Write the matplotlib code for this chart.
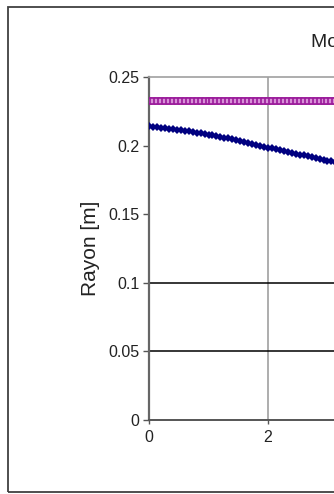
import matplotlib
matplotlib.use('Agg')
import matplotlib.pyplot as plt
from matplotlib.patches import Rectangle

# abscisses (pas de 1/15)
temps = [0.0, 0.067, 0.133, 0.2, 0.267, 0.333, 0.4, 0.467, 0.533, 0.6,
         0.667, 0.733, 0.8, 0.867, 0.933, 1.0, 1.067, 1.133, 1.2, 1.267,
         1.333, 1.4, 1.467, 1.533, 1.6, 1.667, 1.733, 1.8, 1.867, 1.933,
         2.0, 2.067, 2.133, 2.2, 2.267, 2.333, 2.4, 2.467, 2.533, 2.6,
         2.667, 2.733, 2.8, 2.867, 2.933, 3.0, 3.067, 3.133, 3.2]

# rayon calcule (serie bleue)
rayon = [0.2140, 0.2137, 0.2134, 0.2130, 0.2127, 0.2123, 0.2119, 0.2116,
         0.2112, 0.2107, 0.2103, 0.2098, 0.2094, 0.2089, 0.2084, 0.2079,
         0.2074, 0.2069, 0.2063, 0.2057, 0.2052, 0.2046, 0.2040, 0.2033,
         0.2027, 0.2021, 0.2014, 0.2007, 0.2000, 0.1993, 0.1986, 0.1980,
         0.1973, 0.1967, 0.1961, 0.1954, 0.1948, 0.1942, 0.1935, 0.1929,
         0.1923, 0.1916, 0.1910, 0.1904, 0.1897, 0.1891, 0.1885, 0.1878,
         0.1872]

# rayon initial (serie violette, constante)
rayon_init = [0.2325] * len(temps)

# lignes horizontales noires
limites = [0.1, 0.05]

y_ticks = [0, 0.05, 0.1, 0.15, 0.2, 0.25]
y_labels = ['0', '0.05', '0.1', '0.15', '0.2', '0.25']
x_ticks = [0, 2]

plt.rcParams['font.family'] = ['Liberation Sans', 'DejaVu Sans']

W, H = 334, 494
fig = plt.figure(figsize=(W / 100, H / 100), dpi=100)
fig.patch.set_facecolor('white')

# cadre du graphique (coupe a droite)
fig.patches.append(Rectangle((8 / W, 1 - 492 / H), 2.0, 485 / H,
                             transform=fig.transFigure, fill=False,
                             edgecolor='#404040', linewidth=1.3))

ax = fig.add_axes([149 / W, 74 / H, 357 / W, 343 / H])
ax.set_xlim(0, 6)
ax.set_ylim(0, 0.25)

ax.grid(axis='x', color='#a0a0a0', linewidth=1.2)
for lim in limites:
    ax.axhline(lim, color='black', linewidth=1.1, zorder=2)

ax.plot(temps, rayon_init, color='#9a1a9a', linewidth=1.0, marker='s',
        markersize=4, markerfacecolor='#d890d8', markeredgecolor='#9a1a9a',
        markeredgewidth=1.2, zorder=4)
ax.plot(temps, rayon, color='#000080', linewidth=1.0, marker='D',
        markersize=4.3, markeredgewidth=0, zorder=4)

ax.set_yticks(y_ticks)
ax.set_yticklabels(y_labels)
ax.set_xticks(x_ticks)
ax.tick_params(axis='y', direction='out', length=4, width=1, color='#555555',
               labelsize=11.5, labelcolor='#222222', pad=3)
ax.tick_params(axis='x', direction='out', length=3, width=1, color='#555555',
               labelsize=11.5, labelcolor='#222222', pad=4)

ax.spines['right'].set_visible(False)
ax.spines['top'].set_color('#a0a0a0')
ax.spines['top'].set_linewidth(1.2)
ax.spines['left'].set_color('#666666')
ax.spines['left'].set_linewidth(1.6)
ax.spines['bottom'].set_color('#555555')
ax.spines['bottom'].set_linewidth(1.4)

fig.text(90 / W, 1 - 248 / H, 'Rayon [m]', rotation=90, ha='center',
         va='center', fontsize=15, color='#222222')
fig.text(311 / W, 1 - 47 / H, 'Modélisation du rayon', ha='left',
         va='baseline', fontsize=14, color='#222222')

fig.savefig('out.png', dpi=100)
